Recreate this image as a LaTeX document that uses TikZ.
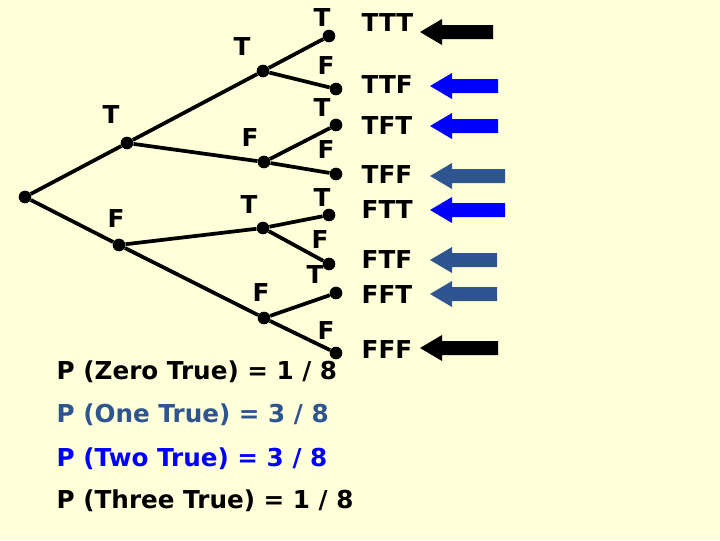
\documentclass[tikz,border=0pt]{standalone}
\usepackage{fontspec}
\setmainfont{DejaVu Sans}
\usepackage{tikz}
\usetikzlibrary{positioning}
\definecolor{bgyellow}{HTML}{FFFFD9}
\definecolor{pblue}{HTML}{0000FF}
\definecolor{psteel}{HTML}{2E5590}
\tikzset{
  dot/.style={circle,fill=black,inner sep=0pt,minimum size=9.5pt},
  branch/.style={line width=2.8pt},
  lbl/.style={font=\fontsize{18.5}{18.5}\selectfont\bfseries},
  res/.style={lbl,anchor=west},
  prob/.style={lbl,anchor=west}
}
\newcommand{\leftarr}[4]{% x-left, x-right, y, colour
  \fill[#4] (#1,#3) -- (#1+22,#3-13) -- (#1+22,#3-7) -- (#2,#3-7) -- (#2,#3+7) -- (#1+22,#3+7) -- (#1+22,#3+13) -- cycle;}
\begin{document}
\begin{tikzpicture}[x=0.75pt,y=-0.75pt]
\fill[bgyellow] (0,0) rectangle (720,540);
\useasboundingbox (0,0) rectangle (720,540);

% tree
\node[dot] (r) at (25,197) {};
\node[dot] (t) at (127,143) {};
\node[dot] (f) at (119,245) {};
\node[dot] (tt) at (263,71) {};
\node[dot] (tf) at (264,162) {};
\node[dot] (ft) at (263,228) {};
\node[dot] (ff) at (264,318) {};
\node[dot] (ttt) at (329,36) {};
\node[dot] (ttf) at (336,89) {};
\node[dot] (tft) at (336,125) {};
\node[dot] (tff) at (336,174) {};
\node[dot] (ftt) at (329,215) {};
\node[dot] (ftf) at (329,264) {};
\node[dot] (fft) at (336,293) {};
\node[dot] (fff) at (336,353) {};
\foreach \a/\b in {r/t,r/f,t/tt,t/tf,f/ft,f/ff,tt/ttt,tt/ttf,tf/tft,tf/tff,ft/ftt,ft/ftf,ff/fft,ff/fff}
  \draw[branch] (\a) -- (\b);

% branch labels
\node[lbl] (l1) at (111,115) {T};
\node[lbl] (l2) at (116,219) {F};
\node[lbl] (l3) at (242,47) {T};
\node[lbl] (l4) at (250,138) {F};
\node[lbl] (l5) at (249,205) {T};
\node[lbl] (l6) at (261,292) {F};
\node[lbl] (l7) at (322,18) {T};
\node[lbl] (l8) at (326,66) {F};
\node[lbl] (l9) at (322,108) {T};
\node[lbl] (l10) at (326,150) {F};
\node[lbl] (l11) at (322,198) {T};
\node[lbl] (l12) at (320,240) {F};
\node[lbl] (l13) at (315,275) {T};
\node[lbl] (l14) at (326,330) {F};

% outcomes
\foreach \nm/\y in {TTT/23,TTF/85,TFT/126,TFF/175,FTT/210,FTF/260,FFT/294,FFF/349}
  \node[res] (o\nm) at (357,\y) {\nm};

% arrows
\leftarr{420}{493}{32}{black}
\leftarr{430}{498}{86}{pblue}
\leftarr{430}{498}{126}{pblue}
\leftarr{430}{505}{176}{psteel}
\leftarr{430}{505}{210}{pblue}
\leftarr{430}{497}{260}{psteel}
\leftarr{430}{497}{294}{psteel}
\leftarr{420}{498}{348}{black}

% probabilities
\node[prob] (p0) at (52,372) {P (Zero True) = 1 / 8};
\node[prob,text=psteel] (p1) at (52,415) {P (One True) = 3 / 8};
\node[prob,text=pblue] (p2) at (52,459) {P (Two True) = 3 / 8};
\node[prob] (p3) at (52,501) {P (Three True) = 1 / 8};
\end{tikzpicture}
\end{document}
